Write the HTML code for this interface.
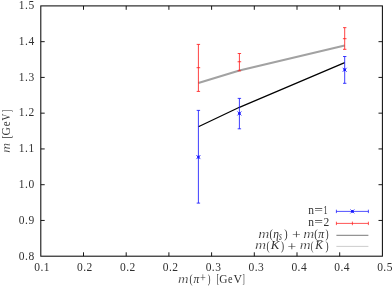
<!DOCTYPE html>
<html><head><meta charset="utf-8"><title>plot</title>
<style>html,body{margin:0;padding:0;background:#fff;}body{width:392px;height:286px;overflow:hidden;}svg{display:block;}text{font-family:"Liberation Serif",serif;font-size:11.5px;fill:#303030;}.i{font-style:italic;}.t{letter-spacing:0.45px;}</style></head><body>
<svg width="392" height="286" viewBox="0 0 392 286">
<rect width="392" height="286" fill="#fff"/>
<g style="will-change:transform">
<rect x="40.8" y="5.9" width="341.60" height="250.30" fill="none" stroke="#0c0c0c" stroke-width="1.05"/>
<path d="M83.50 256.2v-3.9M83.50 5.9v3.9M126.20 256.2v-3.9M126.20 5.9v3.9M168.90 256.2v-3.9M168.90 5.9v3.9M211.60 256.2v-3.9M211.60 5.9v3.9M254.30 256.2v-3.9M254.30 5.9v3.9M297.00 256.2v-3.9M297.00 5.9v3.9M339.70 256.2v-3.9M339.70 5.9v3.9M40.8 220.44h3.9M382.4 220.44h-3.9M40.8 184.69h3.9M382.4 184.69h-3.9M40.8 148.93h3.9M382.4 148.93h-3.9M40.8 113.17h3.9M382.4 113.17h-3.9M40.8 77.41h3.9M382.4 77.41h-3.9M40.8 41.66h3.9M382.4 41.66h-3.9" stroke="#0c0c0c" stroke-width="0.95" fill="none"/>
<text class="t" x="34.6" y="259.50" text-anchor="end">0.8</text>
<text class="t" x="34.6" y="223.74" text-anchor="end">0.9</text>
<text class="t" x="34.6" y="187.99" text-anchor="end">1.0</text>
<text class="t" x="34.6" y="152.23" text-anchor="end">1.1</text>
<text class="t" x="34.6" y="116.47" text-anchor="end">1.2</text>
<text class="t" x="34.6" y="80.71" text-anchor="end">1.3</text>
<text class="t" x="34.6" y="44.96" text-anchor="end">1.4</text>
<text class="t" x="34.6" y="9.20" text-anchor="end">1.5</text>
<text class="t" x="42.10" y="271.2" text-anchor="middle">0.1</text>
<text class="t" x="84.96" y="271.2" text-anchor="middle">0.2</text>
<text class="t" x="127.82" y="271.2" text-anchor="middle">0.2</text>
<text class="t" x="170.69" y="271.2" text-anchor="middle">0.2</text>
<text class="t" x="213.55" y="271.2" text-anchor="middle">0.3</text>
<text class="t" x="256.41" y="271.2" text-anchor="middle">0.3</text>
<text class="t" x="299.28" y="271.2" text-anchor="middle">0.4</text>
<text class="t" x="342.14" y="271.2" text-anchor="middle">0.4</text>
<text class="t" x="385.00" y="271.2" text-anchor="middle">0.5</text>
<text class="i" x="178.07" y="282.70" font-size="11px" textLength="10.54" lengthAdjust="spacingAndGlyphs" stroke="#fff" stroke-width="0.18">m</text>
<text x="189.49" y="283.10" font-size="13.2px" textLength="3.11" lengthAdjust="spacingAndGlyphs">(</text>
<text class="i" x="193.54" y="282.70" font-size="11px" textLength="5.80" lengthAdjust="spacingAndGlyphs">π</text>
<text x="199.99" y="282.20" font-size="10.5px" textLength="5.82" lengthAdjust="spacingAndGlyphs">+</text>
<text x="207.74" y="283.10" font-size="13.2px" textLength="2.72" lengthAdjust="spacingAndGlyphs">)</text>
<text x="216.58" y="283.10" font-size="13.2px" textLength="2.54" lengthAdjust="spacingAndGlyphs">[</text>
<text x="219.23" y="282.70" font-size="11.7px" textLength="8.22" lengthAdjust="spacingAndGlyphs">G</text>
<text x="228.00" y="282.70" font-size="11.2px" textLength="4.56" lengthAdjust="spacingAndGlyphs">e</text>
<text x="233.47" y="282.70" font-size="11.7px" textLength="8.57" lengthAdjust="spacingAndGlyphs">V</text>
<text x="242.41" y="283.10" font-size="13.2px" textLength="2.24" lengthAdjust="spacingAndGlyphs">]</text>
<g transform="translate(10.2,152.5) rotate(-90)">
<text class="i" x="-0.19" y="0.00" font-size="11px" textLength="9.76" lengthAdjust="spacingAndGlyphs" stroke="#fff" stroke-width="0.18">m</text>
<text x="14.25" y="0.40" font-size="13.2px" textLength="2.69" lengthAdjust="spacingAndGlyphs">[</text>
<text x="17.03" y="0.00" font-size="11.7px" textLength="8.33" lengthAdjust="spacingAndGlyphs">G</text>
<text x="26.28" y="0.00" font-size="11.2px" textLength="4.80" lengthAdjust="spacingAndGlyphs">e</text>
<text x="31.99" y="0.00" font-size="11.7px" textLength="6.92" lengthAdjust="spacingAndGlyphs">V</text>
<text x="40.19" y="0.40" font-size="13.2px" textLength="2.39" lengthAdjust="spacingAndGlyphs">]</text>
</g>
<path d="M198.4 83.1L239.4 70.4L344.7 45.5" stroke="#a2a2a2" stroke-width="2.1" fill="none"/>
<path d="M198.4 126.7L239.4 107.3L344.7 62.65" stroke="#000" stroke-width="1.25" fill="none"/>
<path d="M198.4 110.4V203.1M196.70000000000002 110.4h3.4M196.70000000000002 203.1h3.4M196.4 155.1l4.0 4.0M196.4 159.1l4.0 -4.0" stroke="#1414ff" stroke-width="0.82" fill="none"/><circle cx="198.4" cy="157.1" r="1.3" fill="#1414ff"/>
<path d="M239.4 98.4V128.8M237.70000000000002 98.4h3.4M237.70000000000002 128.8h3.4M237.4 111.45l4.0 4.0M237.4 115.45l4.0 -4.0" stroke="#1414ff" stroke-width="0.82" fill="none"/><circle cx="239.4" cy="113.45" r="1.3" fill="#1414ff"/>
<path d="M344.7 56.5V83.3M343.0 56.5h3.4M343.0 83.3h3.4M342.7 67.8l4.0 4.0M342.7 71.8l4.0 -4.0" stroke="#1414ff" stroke-width="0.82" fill="none"/><circle cx="344.7" cy="69.8" r="1.3" fill="#1414ff"/>
<path d="M198.4 44.4V91.4M196.70000000000002 44.4h3.4M196.70000000000002 91.4h3.4M196.6 67.7h3.6" stroke="#ff1818" stroke-width="0.82" fill="none"/>
<path d="M239.4 53.5V70.8M237.70000000000002 53.5h3.4M237.70000000000002 70.8h3.4M237.6 61.75h3.6" stroke="#ff1818" stroke-width="0.82" fill="none"/>
<path d="M344.7 27.65V49.3M343.0 27.65h3.4M343.0 49.3h3.4M342.9 38.7h3.6" stroke="#ff1818" stroke-width="0.82" fill="none"/>
<path d="M336.4 211.4H368.4M336.4 209.70000000000002v3.4M368.4 209.70000000000002v3.4M350.4 209.4l4.0 4.0M350.4 213.4l4.0 -4.0" stroke="#1414ff" stroke-width="0.74" fill="none"/><circle cx="352.4" cy="211.4" r="1.3" fill="#1414ff"/>
<path d="M336.4 223.4H368.4M336.4 221.70000000000002v3.4M368.4 221.70000000000002v3.4M352.4 221.6v3.6" stroke="#ff1818" stroke-width="0.74" fill="none"/>
<path d="M336.4 235.3H368.4" stroke="#6a6a6a" stroke-width="0.9" fill="none"/>
<path d="M336.4 246.4H368.4" stroke="#c6c6c6" stroke-width="0.9" fill="none"/>
<text x="308.34" y="214.40" font-size="11px" textLength="5.74" lengthAdjust="spacingAndGlyphs">n</text>
<text x="314.23" y="214.40" font-size="11.5px" textLength="8.73" lengthAdjust="spacingAndGlyphs">=</text>
<text x="323.58" y="214.40" font-size="11.6px" textLength="4.12" lengthAdjust="spacingAndGlyphs">1</text>
<text x="308.34" y="226.00" font-size="11px" textLength="5.74" lengthAdjust="spacingAndGlyphs">n</text>
<text x="314.23" y="226.00" font-size="11.5px" textLength="8.73" lengthAdjust="spacingAndGlyphs">=</text>
<text x="323.50" y="226.00" font-size="11.6px" textLength="5.74" lengthAdjust="spacingAndGlyphs">2</text>
<text class="i" x="258.34" y="237.60" font-size="11px" textLength="11.10" lengthAdjust="spacingAndGlyphs" stroke="#fff" stroke-width="0.18">m</text>
<text x="269.56" y="238.00" font-size="13.2px" textLength="3.37" lengthAdjust="spacingAndGlyphs">(</text>
<text class="i" x="273.29" y="237.60" font-size="11.3px" textLength="5.68" lengthAdjust="spacingAndGlyphs">η</text>
<text class="i" x="279.11" y="239.80" font-size="8.0px" textLength="2.81" lengthAdjust="spacingAndGlyphs">s</text>
<text x="284.17" y="238.00" font-size="13.2px" textLength="3.37" lengthAdjust="spacingAndGlyphs">)</text>
<text x="291.93" y="239.10" font-size="13.5px" textLength="8.73" lengthAdjust="spacingAndGlyphs">+</text>
<text class="i" x="303.15" y="237.60" font-size="11px" textLength="10.99" lengthAdjust="spacingAndGlyphs" stroke="#fff" stroke-width="0.18">m</text>
<text x="314.24" y="238.00" font-size="13.2px" textLength="3.50" lengthAdjust="spacingAndGlyphs">(</text>
<text class="i" x="318.34" y="237.60" font-size="11px" textLength="5.89" lengthAdjust="spacingAndGlyphs">π</text>
<text x="325.40" y="238.00" font-size="13.2px" textLength="3.11" lengthAdjust="spacingAndGlyphs">)</text>
<text class="i" x="254.94" y="249.30" font-size="11px" textLength="11.10" lengthAdjust="spacingAndGlyphs" stroke="#fff" stroke-width="0.18">m</text>
<text x="266.39" y="249.70" font-size="13.2px" textLength="3.11" lengthAdjust="spacingAndGlyphs">(</text>
<text class="i" x="270.65" y="249.30" font-size="11.8px" textLength="8.60" lengthAdjust="spacingAndGlyphs">K</text>
<text x="280.90" y="249.70" font-size="13.2px" textLength="3.11" lengthAdjust="spacingAndGlyphs">)</text>
<text x="287.43" y="250.80" font-size="13.5px" textLength="8.73" lengthAdjust="spacingAndGlyphs">+</text>
<text class="i" x="299.66" y="249.30" font-size="11px" textLength="10.88" lengthAdjust="spacingAndGlyphs" stroke="#fff" stroke-width="0.18">m</text>
<text x="310.84" y="249.70" font-size="13.2px" textLength="2.72" lengthAdjust="spacingAndGlyphs">(</text>
<text class="i" x="315.24" y="249.30" font-size="11.8px" textLength="7.76" lengthAdjust="spacingAndGlyphs">K</text>
<text x="325.60" y="249.70" font-size="13.2px" textLength="3.11" lengthAdjust="spacingAndGlyphs">)</text>
<path d="M316.9 240.5H322.2" stroke="#303030" stroke-width="0.6"/>
</g></svg></body></html>
